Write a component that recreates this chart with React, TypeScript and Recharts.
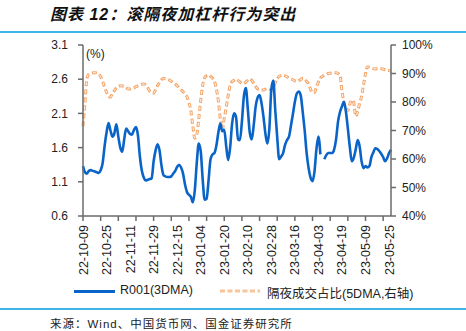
import { LineChart, Line, XAxis, YAxis } from 'recharts'

const FONT = '"Liberation Sans", Arial, "Noto Sans CJK SC", sans-serif'
const AXIS = '#6b6b6b'
const BLUE = '#0A64C8'
const ORANGE = '#F5A66A'
const RULE = '#3DB5E6'

// one label every 12 trading days, small tick marks every 9
const xLabels = [
  '22-10-09', '22-10-25', '22-11-11', '22-11-29', '22-12-15', '23-01-04', '23-01-20',
  '23-02-10', '23-02-28', '23-03-16', '23-04-03', '23-04-19', '23-05-09', '23-05-25',
]
const leftTicks = [0.6, 1.1, 1.6, 2.1, 2.6, 3.1]
const rightTicks = [40, 50, 60, 70, 80, 90, 100]

// R001 3DMA, %
const r001 = [
  1.33, 1.24, 1.22, 1.26, 1.27, 1.26, 1.25, 1.24, 1.23, 1.27,
  1.37, 1.62, 1.82, 1.96, 1.85, 1.76, 1.81, 1.94, 1.76, 1.6,
  1.54, 1.72, 1.88, 1.84, 1.8, 1.79, 1.86, 1.9, 1.78, 1.47,
  1.26, 1.16, 1.12, 1.13, 1.14, 1.15, 1.4, 1.56, 1.65, 1.56,
  1.34, 1.2, 1.18, 1.17, 1.17, 1.18, 1.22, 1.26, 1.32, 1.35,
  1.31, 1.22, 1.06, 0.95, 0.91, 0.88, 0.8, 0.98, 1.38, 1.66,
  1.55, 1.14, 0.84, 0.85, 1.12, 1.43, 1.5, 1.52, 1.63, 1.82,
  1.95, 1.84, 1.86, 1.62, 1.42, 1.6, 1.95, 2.1, 2.05, 1.72,
  1.71, 1.98, 2.35, 2.47, 2.17, 1.82, 1.72, 1.92, 2.2, 2.33,
  2.37, 2.25, 2.05, 1.8, 1.66, 1.88, 2.45, 2.58, 2.15, 1.75,
  1.43, 1.47, 1.52, 1.64, 1.71, 1.76, 1.92, 2.09, 2.27, 2.39,
  2.42, 2.36, 2.12, 1.85, 1.52, 1.3, 1.16, 1.11, 1.25, 1.58,
  1.76, 1.5, null, 1.43, 1.49, 1.52, 1.52, 1.52, 1.57, 1.72,
  1.98, 2.12, 2.2, 2.27, 2.13, 1.88, 1.61, 1.4, 1.45, 1.57,
  1.71, 1.62, 1.4, 1.3, 1.33, 1.31, 1.33, 1.46, 1.53, 1.59,
  1.58, 1.55, 1.51, 1.46, 1.4, 1.44, 1.52, 1.57,
]

// overnight share of turnover, 5DMA, %
const overnightShare = [
  71.5, 79.5, 88.3, 89.8, 90.1, 90.2, 90.3, 90.2, 89.9, 88.9,
  87.3, 85.2, 83.5, 82.0, 81.7, 83.0, 84.0, 84.9, 85.6, 85.7,
  85.6, 85.5, 85.0, 84.6, 84.6, 84.8, 85.0, 85.4, 85.7, 86.0,
  86.2, 86.3, 86.0, 85.0, 83.8, 83.2, 83.1, 84.3, 85.8, 86.8,
  87.8, 88.3, 88.1, 87.9, 87.7, 87.3, 86.8, 86.3, 85.7, 85.0,
  84.3, 83.6, 82.8, 81.8, 79.8, 76.8, 71.5, 67.3, 68.5, 74.0,
  80.5, 85.8, 88.5, 89.2, 89.5, 89.0, 88.4, 87.3, 84.5, 80.3,
  74.0, 70.3, 74.3, 78.0, 82.3, 85.8, 87.2, 87.6, 88.0, 87.6,
  87.0, 86.6, 86.5, 87.0, 87.6, 88.1, 87.6, 86.6, 85.5, 84.6,
  84.3, 84.2, 84.2, 84.5, 84.8, 84.5, 84.1, 85.2, 86.8, 88.2,
  89.0, 89.3, 89.5, 89.2, 88.8, 88.4, 88.1, 87.8, 87.4, 87.2,
  87.5, 87.9, 88.3, 88.0, 87.2, 86.3, 84.5, 83.3, 83.3, 85.3,
  87.0, 88.4, 89.0, 89.4, 89.7, 90.0, 90.1, 90.2, 90.3, 90.3,
  90.0, 89.3, 84.0, 80.0, 77.8, 77.0, 79.3, 80.7, 79.8, 75.0,
  76.6, 79.5, 82.0, 86.0, 90.0, 92.4, 92.2, 91.9, 91.7, 91.6,
  91.7, 91.8, 91.7, 91.5, 91.3, 91.1, 91.0, 90.8,
]

const data = r001.map((v, i) => ({ i, r001: v, share: overnightShare[i] }))

const xTicks = Array.from(
  new Set([
    ...xLabels.map((_, k) => k * 12),
    ...Array.from({ length: 18 }, (_, k) => k * 9),
  ]),
).sort((a, b) => a - b)

function XTick({ x, y, payload }: any) {
  const v = payload.value as number
  const ty = y + 9
  return (
    <g>
      {v % 9 === 0 && (
        <line x1={x} x2={x} y1={y} y2={y + 5} stroke={AXIS} strokeWidth={1.5} />
      )}
      {v % 12 === 0 && (
        <text
          x={x}
          y={ty}
          dy="0.36em"
          textAnchor="end"
          transform={`rotate(-90, ${x}, ${ty})`}
          fontSize={12.5}
          fontFamily={FONT}
          fill="#222"
        >
          {xLabels[v / 12]}
        </text>
      )}
    </g>
  )
}

export default function App() {
  return (
    <div
      style={{
        position: 'absolute', left: 0, top: 0, width: 466, height: 331,
        background: '#fff', fontFamily: FONT, overflow: 'hidden',
      }}
    >
      <div
        style={{
          position: 'absolute', left: 50, top: 5, fontSize: 16, fontWeight: 'bold',
          fontStyle: 'italic', letterSpacing: 1, color: '#111', whiteSpace: 'nowrap',
          lineHeight: '20px',
        }}
      >
        图表 12：滚隔夜加杠杆行为突出
      </div>
      <div style={{ position: 'absolute', left: 0, top: 31, width: 466, height: 2, background: RULE }} />

      <div style={{ position: 'absolute', left: 0, top: 0 }}>
        <LineChart width={466} height={331} data={data} margin={{ top: 45, left: 33, right: 20, bottom: 50 }}>
          <XAxis
            dataKey="i"
            type="number"
            domain={[0, 157]}
            ticks={xTicks}
            interval={0}
            tick={<XTick />}
            tickLine={false}
            tickSize={0}
            tickMargin={0}
            height={65}
            stroke={AXIS}
            strokeWidth={1.5}
          />
          <YAxis
            yAxisId="left"
            domain={[0.6, 3.1]}
            ticks={leftTicks}
            interval={0}
            width={50}
            tickSize={5}
            tickMargin={10}
            tickFormatter={(v: number) => v.toFixed(1)}
            tick={{ fontSize: 12, fill: '#222', fontFamily: FONT }}
            stroke={AXIS}
            strokeWidth={1.5}
          />
          <YAxis
            yAxisId="right"
            orientation="right"
            domain={[40, 100]}
            ticks={rightTicks}
            interval={0}
            width={55}
            tickSize={5}
            tickMargin={6}
            tickFormatter={(v: number) => `${v}%`}
            tick={{ fontSize: 12, fill: '#222', fontFamily: FONT }}
            stroke={AXIS}
            strokeWidth={1.5}
          />
          <Line
            yAxisId="right"
            dataKey="share"
            type="monotone"
            stroke={ORANGE}
            strokeWidth={3}
            strokeDasharray="5 3"
            dot={false}
            activeDot={false}
            isAnimationActive={false}
          />
          <Line
            yAxisId="right"
            dataKey="share"
            type="monotone"
            stroke="#fff"
            strokeWidth={1}
            strokeDasharray="3 5"
            strokeDashoffset={-1}
            dot={false}
            activeDot={false}
            isAnimationActive={false}
            legendType="none"
          />
          <Line
            yAxisId="left"
            dataKey="r001"
            type="monotone"
            stroke={BLUE}
            strokeWidth={2.6}
            dot={false}
            activeDot={false}
            isAnimationActive={false}
          />
        </LineChart>
      </div>

      <div style={{ position: 'absolute', left: 86, top: 47, fontSize: 12, color: '#222' }}>(%)</div>

      <div style={{ position: 'absolute', left: 74, top: 290, width: 41, height: 3, background: BLUE }} />
      <div style={{ position: 'absolute', left: 120, top: 283, fontSize: 12.5, color: '#222', whiteSpace: 'nowrap' }}>
        R001(3DMA)
      </div>
      <svg style={{ position: 'absolute', left: 220, top: 288 }} width={40} height={6}>
        <line x1={0} x2={40} y1={3} y2={3} stroke="#F8C49A" strokeWidth={3} strokeDasharray="5 2.5" />
      </svg>
      <div style={{ position: 'absolute', left: 267, top: 283, fontSize: 12.5, color: '#222', whiteSpace: 'nowrap' }}>
        隔夜成交占比(5DMA,右轴)
      </div>

      <div style={{ position: 'absolute', left: 0, top: 308, width: 466, height: 2, background: RULE }} />
      <div
        style={{
          position: 'absolute', left: 50, top: 318, fontSize: 11.5, letterSpacing: 1,
          color: '#222', whiteSpace: 'nowrap', lineHeight: '13px',
        }}
      >
        来源：Wind、中国货币网、国金证券研究所
      </div>
    </div>
  )
}
